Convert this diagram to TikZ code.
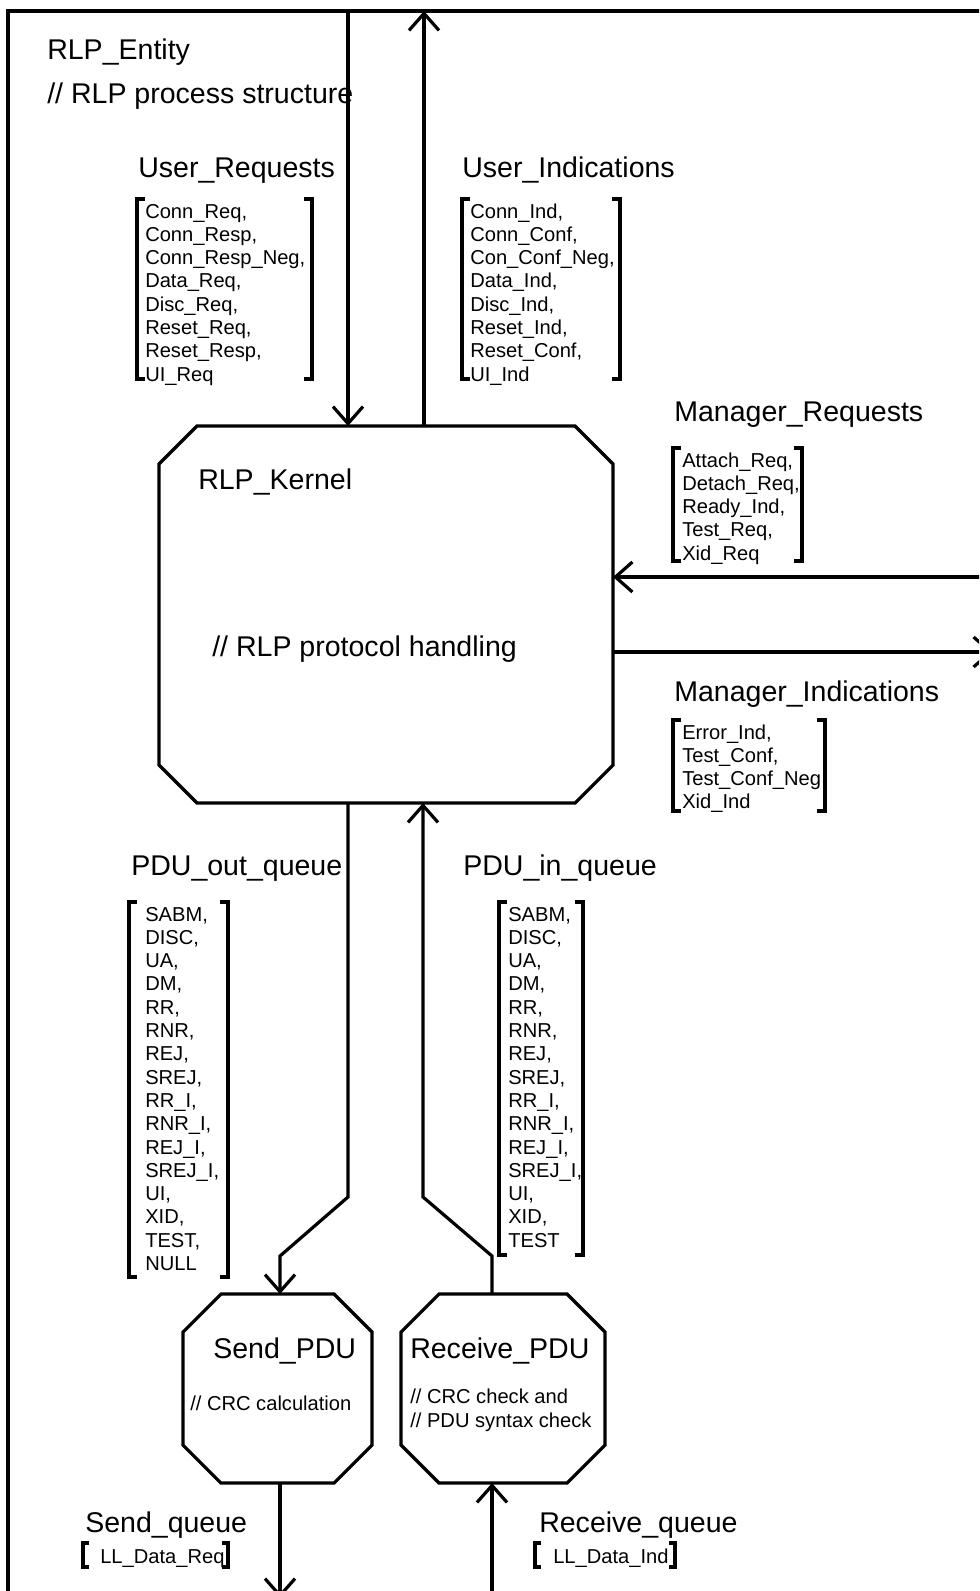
\documentclass[tikz,border=0pt]{standalone}
\usepackage{fontspec}
\setmainfont{Liberation Sans}
\usetikzlibrary{arrows.meta,calc}

% octagonal process symbol drawn round a sizing node: #1 node, #2 corner cut
\newcommand\octagon[2]{%
  \draw[wire] ($(#1.north west)+(#2,0)$) -- ($(#1.north east)+(-#2,0)$)
    -- ($(#1.north east)+(0,#2)$) -- ($(#1.south east)+(0,-#2)$)
    -- ($(#1.south east)+(-#2,0)$) -- ($(#1.south west)+(#2,0)$)
    -- ($(#1.south west)+(0,-#2)$) -- ($(#1.north west)+(0,#2)$) -- cycle;}

% square brackets round a signal list: x left, x right, y top, y bottom, tick
\newcommand\sigbracket[5]{%
  \draw[wire] (#1+#5,#3) -- (#1,#3) -- (#1,#4) -- (#1+#5,#4);
  \draw[wire] (#2-#5,#3) -- (#2,#3) -- (#2,#4) -- (#2-#5,#4);}

% one signal per line: name prefix, x, first baseline, items
\newcommand\siglist[4]{%
  \foreach \t [count=\k from 0] in {#4} {\node[small] (#1-\k) at (#2,{#3+23.3*\k}) {\t};}}

\begin{document}
\begin{tikzpicture}[x=0.75pt,y=-0.75pt,
  wire/.style={line width=2.4pt},
  flow/.style={wire,-{Straight Barb[length=12.75pt,width=22.5pt]}},
  head/.style={inner sep=0,anchor=base west,font=\fontsize{21.4pt}{25pt}\selectfont},
  small/.style={inner sep=0,anchor=base west,font=\fontsize{15.1pt}{17.5pt}\selectfont},
  sizer/.style={inner sep=0,outer sep=0,draw=none}]

\useasboundingbox (0,0) rectangle (979,1591);
\clip (0,0) rectangle (979,1591);

% enclosing block
\node[draw,wire,inner sep=0,outer sep=0,anchor=north west,
      minimum width=738.75pt,minimum height=1190.25pt] (entity) at (8,11) {};
\node[head] (title) at (47,60) {RLP\_Entity};
\node[head] (titlec) at (47,104) {// RLP process structure};

% processes
\node[sizer,minimum width=340.5pt,minimum height=282.75pt] (kernel) at (386,614.5) {};
\node[sizer,minimum width=141.75pt,minimum height=141.75pt] (send) at (277.5,1388.5) {};
\node[sizer,minimum width=153pt,minimum height=141.75pt] (recv) at (503,1388.5) {};
\octagon{kernel}{38}
\octagon{send}{38}
\octagon{recv}{38}

\node[head] (kname) at (198,489) {RLP\_Kernel};
\node[head] (kcom) at (212,656) {// RLP protocol handling};
\node[head] (sname) at (213,1358) {Send\_PDU};
\node[small] (scom) at (190,1410) {// CRC calculation};
\node[head] (rname) at (410,1358) {Receive\_PDU};
\node[small] (rcom1) at (410,1403) {// CRC check and};
\node[small] (rcom2) at (410,1427) {// PDU syntax check};

% channel end points and bends
\coordinate (ur) at (348,11);
\coordinate (ui) at (424,11);
\coordinate (mr) at (993,577);
\coordinate (mi) at (993,652);
\coordinate (outA) at (348,1197);
\coordinate (outB) at (280,1256);
\coordinate (inA) at (423,1197);
\coordinate (inB) at (492,1256);

% channels
\draw[flow] (ur) -- (ur |- kernel.north);
\draw[flow] (ui |- kernel.north) -- (ui);
\draw[flow] (mr) -- (mr -| kernel.east);
\draw[flow] (mi -| kernel.east) -- (mi);
\draw[flow] (outA |- kernel.south) -- (outA) -- (outB) -- (outB |- send.north);
\draw[flow] (inB |- recv.north) -- (inB) -- (inA) -- (inA |- kernel.south);
\draw[flow] (outB |- send.south) -- (outB |- entity.south);
\draw[flow] (inB |- entity.south) -- (inB |- recv.south);

% channel names and signal lists
\node[head] (urname) at (138,178) {User\_Requests};
\sigbracket{137}{312}{199}{379}{8}
\siglist{urs}{145}{218}{{Conn\_Req,},{Conn\_Resp,},{Conn\_Resp\_Neg,},{Data\_Req,},{Disc\_Req,},{Reset\_Req,},{Reset\_Resp,},{UI\_Req}}

\node[head] (uiname) at (462,178) {User\_Indications};
\sigbracket{462}{620}{199}{379}{8}
\siglist{uis}{470}{218}{{Conn\_Ind,},{Conn\_Conf,},{Con\_Conf\_Neg,},{Data\_Ind,},{Disc\_Ind,},{Reset\_Ind,},{Reset\_Conf,},{UI\_Ind}}

\node[head] (mrname) at (674,421) {Manager\_Requests};
\sigbracket{673}{802}{448}{561}{8}
\siglist{mrs}{682}{467}{{Attach\_Req,},{Detach\_Req,},{Ready\_Ind,},{Test\_Req,},{Xid\_Req}}

\node[head] (miname) at (674,701) {Manager\_Indications};
\sigbracket{673}{825}{720}{811}{8}
\siglist{mis}{682}{739}{{Error\_Ind,},{Test\_Conf,},{Test\_Conf\_Neg},{Xid\_Ind}}

\node[head] (poname) at (131,875) {PDU\_out\_queue};
\sigbracket{129}{228}{902}{1277}{8}
\siglist{pos}{145}{921}{{SABM,},{DISC,},{UA,},{DM,},{RR,},{RNR,},{REJ,},{SREJ,},{RR\_I,},{RNR\_I,},{REJ\_I,},{SREJ\_I,},{UI,},{XID,},{TEST,},{NULL}}

\node[head] (piname) at (463,875) {PDU\_in\_queue};
\sigbracket{499}{583}{902}{1255}{8}
\siglist{pis}{508}{921}{{SABM,},{DISC,},{UA,},{DM,},{RR,},{RNR,},{REJ,},{SREJ,},{RR\_I,},{RNR\_I,},{REJ\_I,},{SREJ\_I,},{UI,},{XID,},{TEST}}

\node[head] (sqname) at (85,1532) {Send\_queue};
\sigbracket{83}{228}{1543}{1567}{6}
\node[small] (sqs) at (100,1563) {LL\_Data\_Req};

\node[head] (rqname) at (539,1532) {Receive\_queue};
\sigbracket{535}{675}{1543}{1567}{6}
\node[small] (rqs) at (553,1563) {LL\_Data\_Ind};

\end{tikzpicture}
\end{document}
